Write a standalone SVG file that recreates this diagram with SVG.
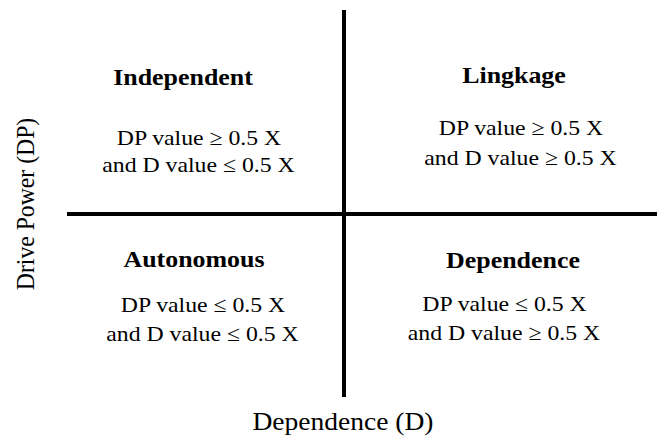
<svg xmlns="http://www.w3.org/2000/svg" width="657" height="437" viewBox="0 0 657 437">
<style>
text{font-family:"Liberation Serif","Times New Roman",serif;fill:#000;text-anchor:middle}
.t{font-size:24px;font-weight:bold}
.b{font-size:22px}
.ax{font-size:25.5px}
.ay{font-size:23.7px}
line{stroke:#000;stroke-width:4}
</style>
<rect width="657" height="437" fill="#fff"/>
<g id="connectors">
<line x1="344" y1="10" x2="344" y2="397"/>
<line x1="67" y1="214" x2="657" y2="214"/>
</g>
<g id="independent">
<text class="t" transform="translate(183,85) scale(1.08,1)">Independent</text>
<text class="b" transform="translate(199,144.5) scale(1.08,1)">DP value ≥ 0.5 X</text>
<text class="b" transform="translate(198.5,172) scale(1.08,1)">and D value ≤ 0.5 X</text>
</g>
<g id="lingkage">
<text class="t" transform="translate(514,83) scale(1.08,1)">Lingkage</text>
<text class="b" transform="translate(521,135) scale(1.08,1)">DP value ≥ 0.5 X</text>
<text class="b" transform="translate(520.5,164.5) scale(1.08,1)">and D value ≥ 0.5 X</text>
</g>
<g id="autonomous">
<text class="t" transform="translate(194,266.5) scale(1.08,1)">Autonomous</text>
<text class="b" transform="translate(203,311.5) scale(1.08,1)">DP value ≤ 0.5 X</text>
<text class="b" transform="translate(202.5,340.5) scale(1.08,1)">and D value ≤ 0.5 X</text>
</g>
<g id="dependence">
<text class="t" transform="translate(513,268) scale(1.08,1)">Dependence</text>
<text class="b" transform="translate(504.5,310.7) scale(1.08,1)">DP value ≤ 0.5 X</text>
<text class="b" transform="translate(504,340) scale(1.08,1)">and D value ≥ 0.5 X</text>
</g>
<g id="axes">
<text class="ax" transform="translate(343,430) scale(1.08,1)">Dependence (D)</text>
<text class="ay" transform="translate(34,204) scale(1.08,1) rotate(-90)">Drive Power (DP)</text>
</g>
</svg>
